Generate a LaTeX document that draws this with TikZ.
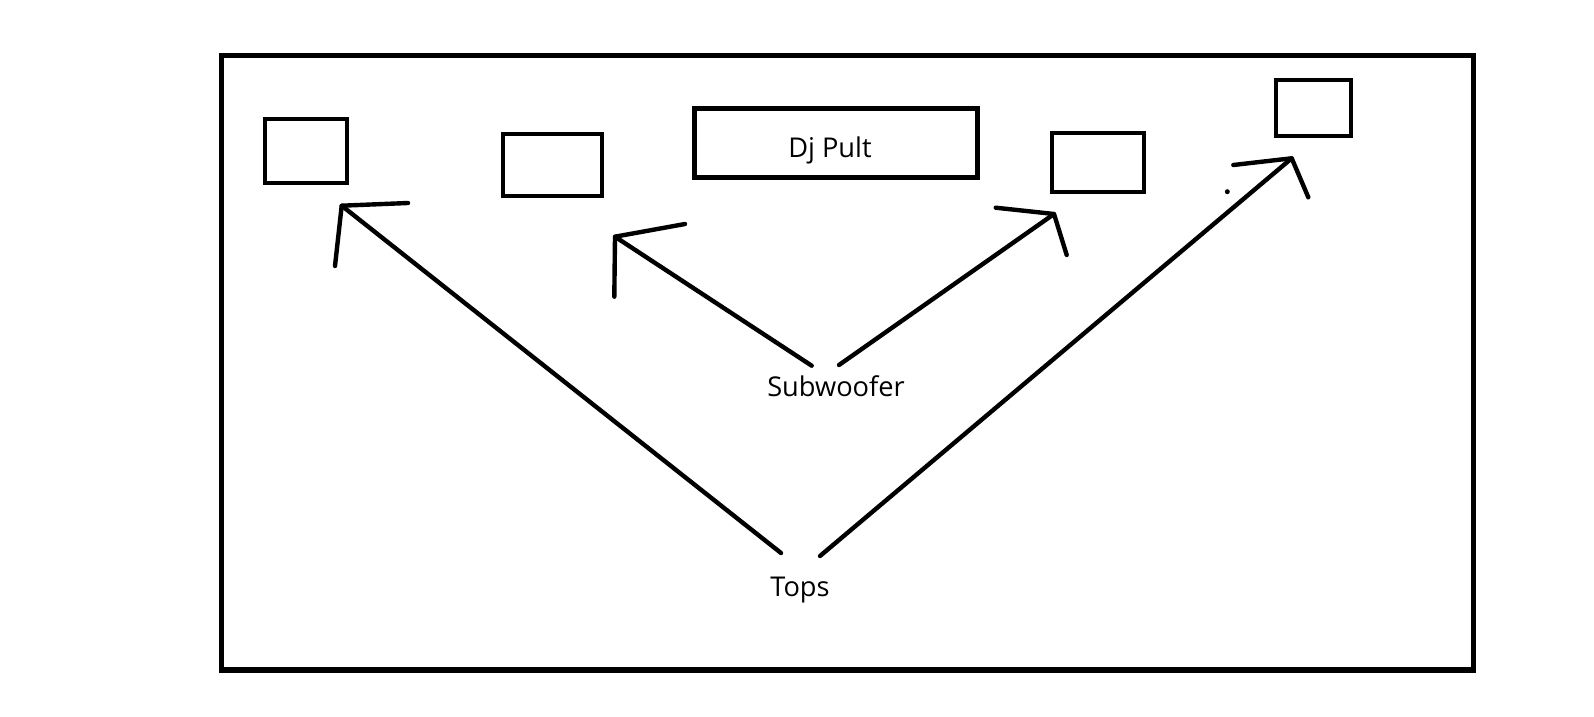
\documentclass[tikz,border=0pt]{standalone}
\usepackage{fontspec}
\setmainfont{Open Sans}
\usetikzlibrary{positioning,calc}

\tikzset{
  spk/.style={draw, line width=2.7pt, inner sep=0pt},
  lbl/.style={font=\fontsize{15.5}{18}\selectfont, inner sep=0pt},
  wire/.style={line width=2.5pt, line cap=round, line join=round}
}

\begin{document}
\begin{tikzpicture}[x=0.02cm, y=-0.02cm]
            \useasboundingbox (0,0) rectangle (1594,716);
            % room outline
            \draw[line width=3pt] (221.5,55.5) rectangle (1473.5,670);

            % speakers and desk
            \node[spk, minimum width=1.64cm, minimum height=1.28cm] (spk1) at (306,151) {};
            \node[spk, minimum width=1.98cm, minimum height=1.24cm] (spk2) at (552.5,165) {};
            \node[spk, minimum width=5.66cm, minimum height=1.37cm] (dj) at (836,143) {};
            \node[spk, minimum width=1.84cm, minimum height=1.18cm] (spk3) at (1098,162.5) {};
            \node[spk, minimum width=1.5cm, minimum height=1.12cm] (spk4) at (1313.5,108) {};
            \node[lbl, anchor=base] (djtext) at (830,157.3) {Dj Pult};

            \node[lbl, anchor=base] (sub) at (836,396.5) {Subwoofer};
            \node[lbl, anchor=base] (tops) at (800,596) {Tops};

            % start and tip of each arrow
            \coordinate (tops-l) at (781,553);
            \coordinate (tops-r) at (820,556);
            \coordinate (sub-l) at (811.7,365.7);
            \coordinate (sub-r) at (839,365);
            \coordinate (t1) at (341.7,205.7);
            \coordinate (t2) at (615,236.7);
            \coordinate (t3) at (1054,214);
            \coordinate (t4) at (1291.7,158.3);

            \draw[wire] (tops-l) -- (t1);
            \draw[wire] (408,203) -- (t1) -- (335,266);
            \draw[wire] (sub-l) -- (t2);
            \draw[wire] (685,224) -- (t2) -- (614.3,296.7);
            \draw[wire] (sub-r) -- (t3);
            \draw[wire] (995.7,207.7) -- (t3) -- (1066.7,255);
            \draw[wire] (tops-r) -- (t4);
            \draw[wire] (1233.3,165) -- (t4) -- (1308.3,197.3);

            \fill (1227.3,191.7) circle (2.5);
        \end{tikzpicture}
\end{document}
